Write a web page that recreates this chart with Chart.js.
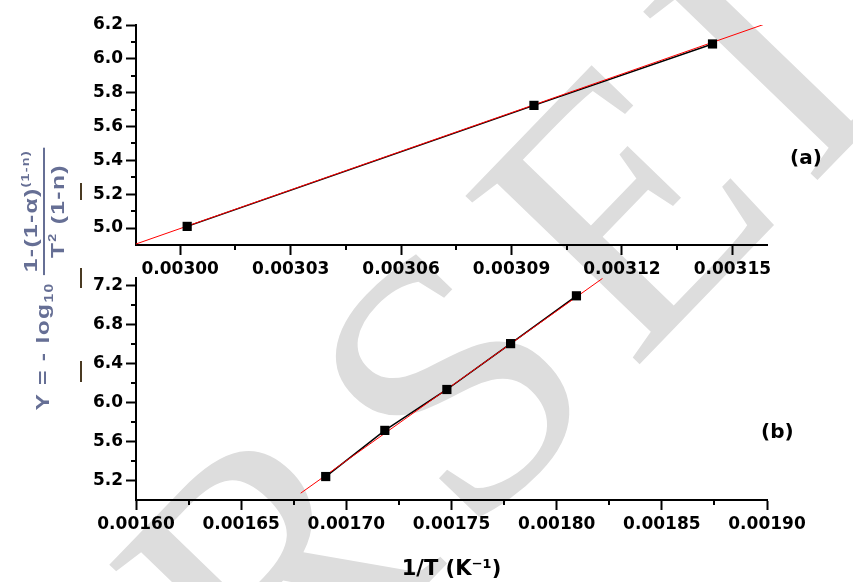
<!DOCTYPE html>
<html><head><meta charset="utf-8">
<script src="https://cdn.jsdelivr.net/npm/chart.js@4.4.1/dist/chart.umd.min.js"></script>
<style>
html,body{margin:0;padding:0;background:#fff;}
#wrap{position:relative;width:853px;height:582px;overflow:hidden;background:#fff;}
#wrap canvas{position:absolute;left:0;}
#wm{top:0;}
#cA{top:0;}
#cB{top:262px;}
.plabel{position:absolute;font:bold 20px "DejaVu Sans";color:#000;}
#ytw{position:absolute;left:-106px;top:249px;width:300px;height:60px;display:flex;align-items:center;justify-content:center;transform:rotate(-90deg) scaleX(1.3);color:#666f95;font:bold 19px "Liberation Sans",Arial,sans-serif;white-space:nowrap;letter-spacing:1px;}
#ytw sub{font-size:12px;vertical-align:-4px;}
#ytw sup{font-size:11px;vertical-align:8px;}
.frac{display:inline-flex;flex-direction:column;align-items:center;margin-left:6px;}
.num{border-bottom:2px solid #666f95;padding:0 2px 1px 2px;}
.den{padding-top:1px;}
.mark{position:absolute;left:80px;width:2px;background:#4a3a22;}
</style></head>
<body>
<div id="wrap">
<canvas id="wm" width="853" height="582"></canvas>
<canvas id="cA" width="853" height="290"></canvas>
<canvas id="cB" width="853" height="320"></canvas>
<div class="plabel" style="left:790px;top:145px;">(a)</div>
<div class="plabel" style="left:761px;top:419px;">(b)</div>
<div id="ytw"><span>Y = - log<sub>10</sub></span><span class="frac"><span class="num">1-(1-α)<sup>(1-n)</sup></span><span class="den">T<sup>2</sup> (1-n)</span></span></div>
<div class="mark" style="top:183px;height:17px;"></div>
<div class="mark" style="top:268px;height:20px;"></div>
<div class="mark" style="top:361px;height:21px;"></div>
</div>
<script>
// ---- Panel (a) data ----
const xA = [0.0030019, 0.0030961, 0.0031446];
const yA = [5.01, 5.725, 6.088];
const fitXA = [0.0029880, 0.0031586];
const fitYA = [4.906, 6.204];
const xTicksA = [0.00300, 0.00303, 0.00306, 0.00309, 0.00312, 0.00315];
const xMinorA = [0.003015, 0.003045, 0.003075, 0.003105, 0.003135];
const yTicksA = [5.0, 5.2, 5.4, 5.6, 5.8, 6.0, 6.2];
const yMinorA = [5.1, 5.3, 5.5, 5.7, 5.9, 6.1];

// ---- Panel (b) data ----
const xB = [0.0016902, 0.0017183, 0.0017478, 0.0017781, 0.0018094];
const yB = [5.241, 5.715, 6.135, 6.606, 7.097];
const fitXB = [0.0016783, 0.0018218];
const fitYB = [5.070, 7.276];
const xTicksB = [0.00160, 0.00165, 0.00170, 0.00175, 0.00180, 0.00185, 0.00190];
const xMinorB = [0.001625, 0.001675, 0.001725, 0.001775, 0.001825, 0.001875];
const yTicksB = [5.2, 5.6, 6.0, 6.4, 6.8, 7.2];
const yMinorB = [5.4, 5.8, 6.2, 6.6, 7.0];

const xTitleB = '1/T (K\u207B\u00B9)';

// watermark (decorative background text)
(function(){
  const c = document.getElementById('wm').getContext('2d');
  c.fillStyle = '#dddddd';
  c.font = '370px "Liberation Serif", "DejaVu Serif", serif';
  c.textBaseline = 'middle';
  c.textAlign = 'center';
  const word = 'REVERSED', sIdx = 5, gap = 30;
  const th = -46 * Math.PI / 180, ux = Math.cos(th), uy = Math.sin(th);
  const w = word.split('').map(ch => c.measureText(ch).width);
  const sx = 470, sy = 400;
  for (let i = 0; i < word.length; i++) {
    let d = 0;
    if (i > sIdx) { for (let k = sIdx; k < i; k++) d += (w[k] + w[k + 1]) / 2 + gap; }
    else if (i < sIdx) { for (let k = i; k < sIdx; k++) d -= (w[k] + w[k + 1]) / 2 + gap; }
    c.save(); c.translate(sx + d * ux, sy + d * uy); c.rotate(th); c.fillText(word[i], 0, 0); c.restore();
  }
})();

const minorTicks = {
  id: 'minorTicks',
  afterDraw(chart, args, opts) {
    const ctx = chart.ctx, xs = chart.scales.x, ys = chart.scales.y;
    ctx.save(); ctx.strokeStyle = '#000'; ctx.lineWidth = 2;
    (opts.x || []).forEach(v => { const p = Math.round(xs.getPixelForValue(v)); ctx.beginPath(); ctx.moveTo(p, xs.top); ctx.lineTo(p, xs.top + 5); ctx.stroke(); });
    (opts.y || []).forEach(v => { const p = Math.round(ys.getPixelForValue(v)); ctx.beginPath(); ctx.moveTo(ys.right, p); ctx.lineTo(ys.right - 5, p); ctx.stroke(); });
    ctx.restore();
  }
};

const tickFont = { family: '"DejaVu Sans"', size: 17, weight: 'bold' };

function makeChart(id, xs, ys, fx, fy, xT, xM, yT, yM, xmin, xmax, ymin, ymax, padTop, xH, xDigits, yDigits, title) {
  const pts = xs.map((x, i) => ({ x: x, y: ys[i] }));
  const fit = fx.map((x, i) => ({ x: x, y: fy[i] }));
  return new Chart(document.getElementById(id), {
    type: 'scatter',
    data: { datasets: [
      { data: pts, showLine: true, borderColor: '#000', borderWidth: 1.5, pointRadius: 0, order: 3 },
      { data: fit, showLine: true, borderColor: '#ff0000', borderWidth: 1, pointRadius: 0, order: 2 },
      { data: pts, showLine: false, pointStyle: 'rect', pointRadius: 6.5, pointBackgroundColor: '#000', pointBorderWidth: 0, order: 1 }
    ]},
    options: {
      responsive: false, animation: false, events: [],
      layout: { padding: { left: 0, right: 86, top: padTop, bottom: 0 } },
      plugins: { legend: { display: false }, tooltip: { enabled: false }, minorTicks: { x: xM, y: yM } },
      scales: {
        x: {
          type: 'linear', min: xmin, max: xmax,
          afterBuildTicks: s => { s.ticks = xT.map(v => ({ value: v })); },
          afterFit: s => { s.height = xH; },
          border: { display: true, color: '#000', width: 2 },
          grid: { display: true, drawOnChartArea: false, drawTicks: true, tickLength: 10, tickWidth: 2, tickColor: '#000' },
          ticks: { color: '#000', font: tickFont, padding: 4, maxRotation: 0, autoSkip: false, callback: v => Number(v).toFixed(xDigits) },
          title: title ? { display: true, text: title, color: '#000', font: { family: '"DejaVu Sans"', size: 21, weight: 'bold' }, padding: { top: 0, bottom: 0 } } : { display: false }
        },
        y: {
          type: 'linear', min: ymin, max: ymax,
          afterBuildTicks: s => { s.ticks = yT.map(v => ({ value: v })); },
          afterFit: s => { s.width = 136; },
          border: { display: true, color: '#000', width: 2 },
          grid: { display: true, drawOnChartArea: false, drawTicks: true, tickLength: 10, tickWidth: 2, tickColor: '#000' },
          ticks: { color: '#000', font: tickFont, padding: 3, autoSkip: false, callback: v => Number(v).toFixed(yDigits) }
        }
      }
    },
    plugins: [minorTicks]
  });
}

makeChart('cA', xA, yA, fitXA, fitYA, xTicksA, xMinorA, yTicksA, yMinorA, 0.0029880, 0.0031594, 4.9, 6.2, 25, 45, 5, 1, null);
makeChart('cB', xB, yB, fitXB, fitYB, xTicksB, xMinorB, yTicksB, yMinorB, 0.00160, 0.00190, 5.0, 7.28, 16, 82, 5, 1, xTitleB);
</script>
</body></html>
